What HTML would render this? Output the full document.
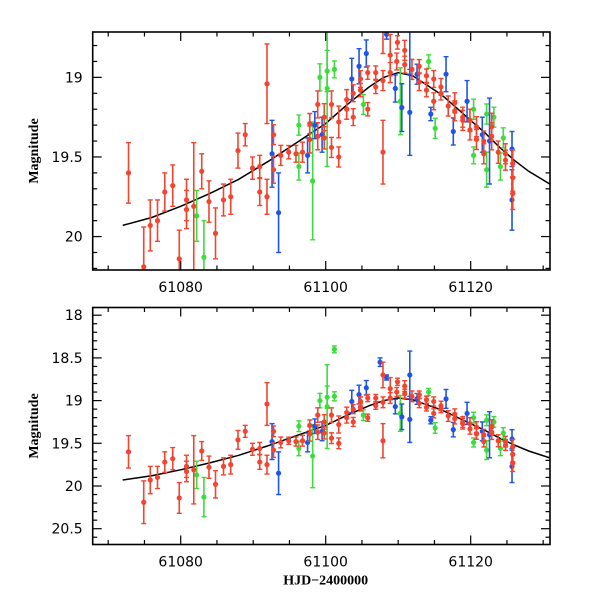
<!DOCTYPE html>
<html><head><meta charset="utf-8"><style>
html,body{margin:0;padding:0;background:#fff;}
svg{display:block;font-family:"DejaVu Sans","Liberation Sans",sans-serif;}
</style></head><body>
<svg id="chart" width="600" height="600" viewBox="0 0 600 600" xmlns="http://www.w3.org/2000/svg"></svg>
<script>
// ---- data ----
const modelDays = [61072,61076,61080,61084,61088,61092,61096,61100,61103,61106,61108,61110,61112,61114,61116,61118,61120,61122,61124,61126,61128,61132];
const modelMags = [19.93,19.88,19.81,19.73,19.64,19.53,19.41,19.29,19.17,19.06,19.00,18.97,18.99,19.05,19.11,19.19,19.27,19.35,19.44,19.52,19.59,19.70];

const redDays = [61072.8,61074.9,61075.8,61076.8,61077.8,61078.9,61079.8,61080.8,61080.8,61081.8,61082.9,61083.9,61084.8,61085.9,61086.9,61087.9,61088.9,61089.9,61090.9,61090.9,61091.9,61091.9,61092.8,61092.8,
61093.8,61094.9,61095.9,61096.8,61097.8,61097.8,61098.9,61098.9,61099.8,61099.8,61100.8,61100.8,61101.8,61101.8,61102.9,61102.9,61103.8,61103.8,61104.8,61104.8,61105.8,61105.8,61106.9,61106.9,61107.9,61107.9,61107.9,61108.9,61108.9,61109.8,61109.9,61110.9,61110.9,61111.9,61112.9,61112.9,61113.9,61113.9,61114.9,61114.9,61115.9,61115.9,61116.9,61117.8,61117.8,61118.9,61118.9,61119.9,61119.9,61120.8,61120.8,61121.8,61121.8,61122.9,61122.9,61123.8,61124.8,61124.8,61125.8,61125.8,61125.8];
const redMags = [19.60,20.19,19.93,19.90,19.72,19.68,20.14,19.77,19.83,19.81,19.59,19.78,19.98,19.77,19.75,19.46,19.36,19.57,19.56,19.72,19.04,19.75,19.36,19.58,
19.49,19.47,19.48,19.47,19.39,19.29,19.17,19.37,19.38,19.25,19.17,19.44,19.28,19.50,19.20,19.14,19.10,19.25,19.01,19.08,18.97,19.20,18.97,19.06,19.02,19.47,18.70,18.86,18.97,18.90,18.78,18.83,18.92,18.95,18.93,19.03,18.99,19.08,19.01,19.15,19.06,19.10,19.18,19.16,19.21,19.25,19.27,19.27,19.33,19.39,19.31,19.40,19.48,19.31,19.37,19.47,19.48,19.52,19.54,19.73,19.63];
const redErrs = [0.19,0.25,0.16,0.13,0.12,0.13,0.18,0.13,0.12,0.40,0.11,0.13,0.16,0.10,0.11,0.11,0.07,0.07,0.07,0.085,0.25,0.11,0.063,0.085,
0.063,0.042,0.053,0.063,0.085,0.063,0.085,0.085,0.07,0.085,0.085,0.063,0.10,0.063,0.063,0.063,0.053,0.053,0.053,0.042,0.042,0.042,0.042,0.042,0.063,0.20,0.15,0.13,0.063,0.053,0.042,0.063,0.053,0.063,0.042,0.053,0.042,0.042,0.053,0.053,0.053,0.042,0.063,0.063,0.063,0.063,0.063,0.07,0.063,0.063,0.063,0.063,0.063,0.085,0.085,0.07,0.063,0.063,0.085,0.10,0.085];

const greenDays = [61082.2,61083.2,61096.3,61096.3,61098.2,61099.2,61100.2,61100.2,61101.2,61101.2,61105.2,61110.3,61114.2,61115.1,61120.4,61120.4,61122.2,61122.2,61123.2,61124.1,61124.5];
const greenMags = [19.87,20.13,19.30,19.56,19.65,19.00,18.96,19.07,18.95,18.40,19.17,19.15,18.90,19.32,19.49,19.20,19.58,19.23,19.25,19.56,19.38];
const greenErrs = [0.16,0.23,0.063,0.085,0.37,0.085,0.13,0.49,0.053,0.04,0.063,0.21,0.042,0.063,0.053,0.063,0.11,0.063,0.063,0.085,0.063];

const blueDays = [61092.6,61093.5,61097.5,61098.5,61099.5,61103.6,61104.6,61105.6,61107.5,61108.4,61109.6,61110.5,61111.6,61111.6,61112.6,61114.5,61116.6,61117.6,61119.5,61121.6,61122.6,61125.7,61125.7];
const blueMags = [19.48,19.85,19.49,19.30,19.36,19.01,18.93,18.85,18.55,18.73,19.07,19.19,19.22,18.70,18.98,19.23,18.98,19.34,19.15,19.36,19.40,19.45,19.77];
const blueErrs = [0.21,0.25,0.11,0.085,0.11,0.13,0.11,0.085,0.05,0.03,0.085,0.15,0.27,0.28,0.063,0.042,0.11,0.085,0.13,0.11,0.27,0.11,0.19];

const xTicksMajor = [61080,61100,61120];
const topYTicks = [19,19.5,20];
const botYTicks = [18,18.5,19,19.5,20,20.5];

// ---- layout ----
const NS = "http://www.w3.org/2000/svg";
const svg = document.getElementById('chart');
const X0 = 92.7, X1 = 550, D0 = 61067.86, D1 = 61130.94;
function xs(d){ return X0 + (d - D0) / (D1 - D0) * (X1 - X0); }
const panels = [
  {name:'top', y0:32, y1:270, m0:18.715, m1:20.21, ticks:topYTicks, showX:false},
  {name:'bottom', y0:307.5, y1:544.5, m0:17.91, m1:20.685, ticks:botYTicks, showX:true}
];
function mk(tag, attrs, parent){
  const e = document.createElementNS(NS, tag);
  for (const k in attrs) e.setAttribute(k, attrs[k]);
  (parent||svg).appendChild(e);
  return e;
}
panels.forEach(p => {
  const ys = m => p.y0 + (m - p.m0) / (p.m1 - p.m0) * (p.y1 - p.y0);
  const g = mk('g', {});
  
  
  const cp = mk('clipPath', {id:'clip-' + p.name}, g);
  mk('rect', {x:X0, y:p.y0, width:X1-X0, height:p.y1-p.y0}, cp);
  const tg = mk('g', {stroke:'#000','stroke-width':1.2}, g);
  
  
  for (let d = 61070; d <= 61130; d += 5) {
    const x = xs(d), L = (d % 20 === 0) ? 9 : 4.5;
    mk('line', {x1:x, x2:x, y1:p.y1, y2:p.y1-L}, tg);
    mk('line', {x1:x, x2:x, y1:p.y0, y2:p.y0+L}, tg);
  }
  for (let i = Math.ceil(p.m0*10); i <= Math.floor(p.m1*10); i++) {
    const y = ys(i/10), L = (i % 5 === 0) ? 9 : 4.5;
    mk('line', {x1:X0, x2:X0+L, y1:y, y2:y}, tg);
    mk('line', {x1:X1, x2:X1-L, y1:y, y2:y}, tg);
  }
  p.ticks.forEach(t => {
    const tx = mk('text', {x:X0-10, y:ys(t)+5, 'text-anchor':'end','font-size':14, fill:'#000'}, g);
    
    
    tx.textContent = String(t);
  });
  const yl = mk('text', {x:0, y:0, transform:`translate(38,${(p.y0+p.y1)/2}) rotate(-90)`, 'text-anchor':'middle','font-size':14,'font-weight':'bold','font-family':'"Liberation Serif",serif', fill:'#000'}, g);
  
  
  yl.textContent = 'Magnitude';
  xTicksMajor.forEach(t => {
    const tx = mk('text', {x:xs(t), y:p.y1+22, 'text-anchor':'middle','font-size':14, fill:'#000'}, g);
    
    
    tx.textContent = String(t);
  });
  if (p.showX) {
    const xl = mk('text', {x:xs(61100), y:p.y1+40, 'text-anchor':'middle','font-size':14,'font-weight':'bold','font-family':'"Liberation Serif",serif', fill:'#000'}, g);
    
    
    xl.textContent = 'HJD\u22122400000';
  }
  const dg = mk('g', {'clip-path':`url(#clip-${p.name})`}, g);
  let dstr = '';
  modelDays.forEach((d,i) => { dstr += (i ? 'L' : 'M') + xs(d).toFixed(1) + ',' + ys(modelMags[i]).toFixed(1); });
  const curve = mk('path', {d:dstr, fill:'none', stroke:'#000','stroke-width':1.5}, dg);
  
  
  const series = [
    ['green', greenDays, greenMags, greenErrs, '#3ddc3d'],
    ['blue', blueDays, blueMags, blueErrs, '#1f55e6'],
    ['red', redDays, redMags, redErrs, '#f2442e']
  ];
  series.forEach(([nm, ds, ms, es, col]) => {
    const sg = mk('g', {stroke:col, fill:col}, dg);
    
    
    ds.forEach((d,i) => {
      const x = xs(d), y = ys(ms[i]), ya = ys(ms[i]-es[i]), yb = ys(ms[i]+es[i]);
      mk('line', {x1:x, x2:x, y1:ya, y2:yb, 'stroke-width':1.6}, sg);
      mk('line', {x1:x-2.5, x2:x+2.5, y1:ya, y2:ya, 'stroke-width':1.4}, sg);
      mk('line', {x1:x-2.5, x2:x+2.5, y1:yb, y2:yb, 'stroke-width':1.4}, sg);
      const c = mk('circle', {cx:x, cy:y, r:2.6, stroke:'none'}, sg);
      
      
    });
  });
  const fr = mk('rect', {x:X0, y:p.y0, width:X1-X0, height:p.y1-p.y0, fill:'none', stroke:'#000','stroke-width':1.6}, g);
  
  
});
</script>
</body></html>
